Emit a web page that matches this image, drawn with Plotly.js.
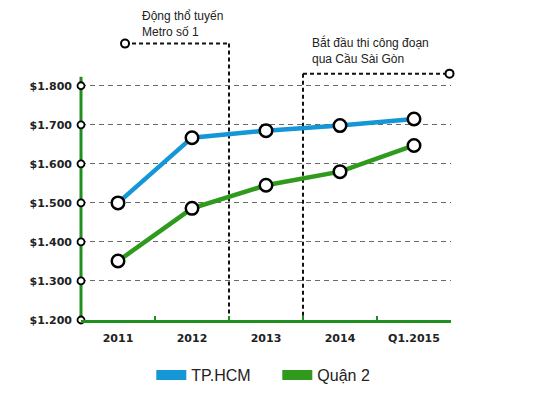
<!DOCTYPE html>
<html><head><meta charset="utf-8">
<script src="https://cdn.plot.ly/plotly-3.0.1.min.js"></script>
<style>html,body{margin:0;padding:0;background:#fff}#chart{width:550px;height:394px}</style>
</head><body><div id="chart"></div>
<script>
const categories = ['2011','2012','2013','2014','Q1.2015'];
const tphcm = [1500, 1667, 1685, 1698, 1715];
const quan2 = [1351, 1486, 1545, 1580, 1647];
const tickVals = [1200,1300,1400,1500,1600,1700,1800];
const tickText = ['$1.200','$1.300','$1.400','$1.500','$1.600','$1.700','$1.800'];
const seriesNames = ['TP.HCM','Quận 2'];
const event1 = {text:'Động thổ tuyến<br>Metro số 1', x:1.5, y:1908, startX:0.095};
const event2 = {text:'Bắt đầu thi công đoạn<br>qua Cầu Sài Gòn', x:2.5, y:1831, endX:4.48};
const yRange = [1200, 1930];
const yAxisTop = 1823;

const blue = '#1596d6', green = '#2f9a1c', axisGreen = '#1f8f1f';
const font = {family:'"DejaVu Sans", sans-serif', size:11, color:'#222', weight:700};
const textFont = {family:'"Liberation Sans", Arial, sans-serif', size:12, color:'#222', weight:400};

const mk = {symbol:'circle', size:12.5, color:'#fff', line:{color:'#000', width:2.5}};
const traces = [
  {x:categories, y:tphcm, mode:'lines+markers', line:{color:blue, width:4.5}, marker:mk, showlegend:false, cliponaxis:false, name:seriesNames[0]},
  {x:categories, y:quan2, mode:'lines+markers', line:{color:green, width:4.5}, marker:mk, showlegend:false, cliponaxis:false, name:seriesNames[1]},
  {x:[null], y:[null], mode:'lines', line:{color:blue, width:10}, name:seriesNames[0]},
  {x:[null], y:[null], mode:'lines', line:{color:green, width:10}, name:seriesNames[1]},
  // y-axis tick circles
  {x:tickVals.map(()=>-0.5), y:tickVals, xaxis:'x2', mode:'markers', marker:{symbol:'circle', size:7, color:'#fff', line:{color:'#000', width:1.8}}, showlegend:false, cliponaxis:false, hoverinfo:'skip'},
  // event end circles
  {x:[event1.startX, event2.endX], y:[event1.y, event2.y], xaxis:'x2', mode:'markers', marker:{symbol:'circle', size:8, color:'#fff', line:{color:'#000', width:2}}, showlegend:false, cliponaxis:false, hoverinfo:'skip'}
];

const dot = {color:'#111', width:2, dash:'4px,3px'};
const shapes = [
  {type:'line', xref:'x', yref:'y', x0:event1.startX, x1:event1.x, y0:event1.y, y1:event1.y, line:dot, layer:'below'},
  {type:'line', xref:'x', yref:'y', x0:event1.x, x1:event1.x, y0:event1.y, y1:yRange[0], line:dot, layer:'below'},
  {type:'line', xref:'x', yref:'y', x0:event2.x, x1:event2.endX, y0:event2.y, y1:event2.y, line:dot, layer:'below'},
  {type:'line', xref:'x', yref:'y', x0:event2.x, x1:event2.x, y0:event2.y, y1:yRange[0], line:dot, layer:'below'},
  // green y-axis line (paper refs so it is not clipped)
  {type:'line', xref:'paper', yref:'paper', x0:0, x1:0, y0:0, y1:(yAxisTop-yRange[0])/(yRange[1]-yRange[0]), line:{color:axisGreen, width:3}, layer:'below'}
];

const annotations = [
  {xref:'x', yref:'y', x:event1.startX+0.2, y:event1.y+6, text:event1.text, showarrow:false, xanchor:'left', yanchor:'bottom', align:'left', font:textFont},
  {xref:'x', yref:'y', x:event2.x+0.1, y:event2.y+15, text:event2.text, showarrow:false, xanchor:'left', yanchor:'bottom', align:'left', font:textFont}
];

const layout = {
  width:550, height:394,
  margin:{l:81, r:99, t:35, b:74, autoexpand:false},
  paper_bgcolor:'#fff', plot_bgcolor:'#fff',
  font:font,
  xaxis:{type:'category', range:[-0.5,4.5], showgrid:false, zeroline:false, showline:true, linecolor:axisGreen, linewidth:3,
         ticks:'inside', tickson:'boundaries', ticklen:4, tickcolor:axisGreen, tickwidth:2, ticklabelstandoff:6, tickfont:font},
  xaxis2:{overlaying:'x', range:[-0.5,4.5], visible:false, showgrid:false, zeroline:false},
  yaxis:{range:yRange, tickvals:tickVals, ticktext:tickText, showgrid:true, gridcolor:'#6a6a6a', gridwidth:1, griddash:'5px,4px',
         zeroline:false, showline:false, ticks:'', ticklabelstandoff:8, tickfont:font},
  legend:{orientation:'h', x:0.19, xanchor:'left', yref:'container', y:0.048, yanchor:'middle', itemwidth:30, entrywidth:81, traceorder:'normal',
          font:{family:'"Liberation Sans", Arial, sans-serif', size:16, color:'#222', weight:400}},
  shapes:shapes, annotations:annotations, showlegend:true
};
Plotly.newPlot('chart', traces, layout, {displayModeBar:false, staticPlot:true});
</script></body></html>
